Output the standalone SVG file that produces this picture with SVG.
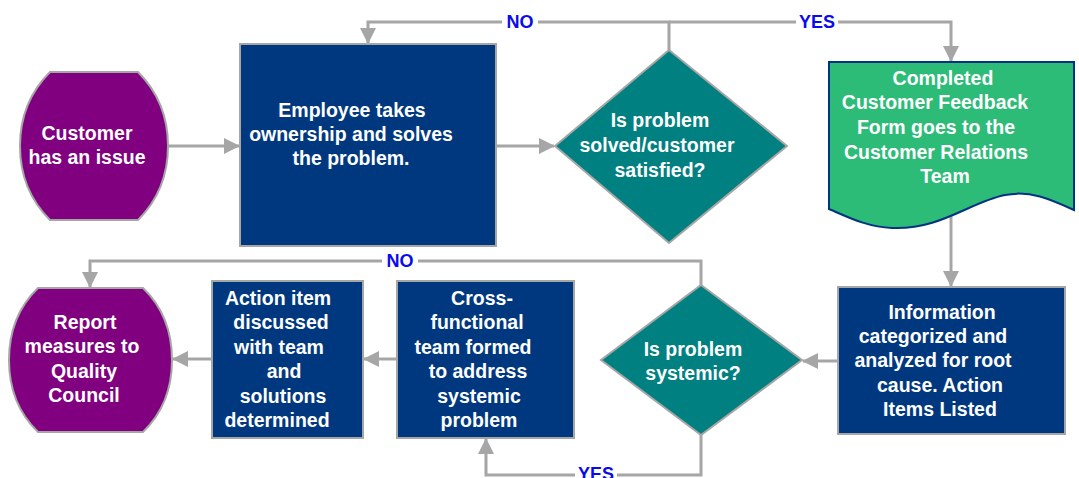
<svg xmlns="http://www.w3.org/2000/svg" width="1079" height="478" viewBox="0 0 1079 478">
<defs>
<marker id="arr" markerUnits="userSpaceOnUse" markerWidth="16" markerHeight="16" refX="15" refY="8" orient="auto">
<path d="M0,0 L16,8 L0,16 Z" fill="#A6A6A6"/>
</marker>
<style>
.t{font-family:"Liberation Sans",Arial,sans-serif;font-weight:bold;font-size:19.5px;fill:#FFFFFF;text-anchor:middle}
.lb{font-family:"Liberation Sans",Arial,sans-serif;font-weight:bold;font-size:18px;fill:#0A0AEE;text-anchor:middle}
.c{fill:none;stroke:#A6A6A6;stroke-width:3}
.box{fill:#00387F;stroke:#A6A6A6;stroke-width:2}
.dia{fill:#008080;stroke:#A6A6A6;stroke-width:2}
.term{fill:#800080;stroke:#A6A6A6;stroke-width:2}
</style>
</defs>
<rect width="1079" height="478" fill="#FFFFFF"/>
<g id="connectors">
<path class="c" d="M168,146 H239" marker-end="url(#arr)"/>
<path class="c" d="M496,146 H554" marker-end="url(#arr)"/>
<path class="c" d="M669,50 V22 H368 V43" marker-end="url(#arr)"/>
<path class="c" d="M669,22 H951 V61" marker-end="url(#arr)"/>
<path class="c" d="M951,215 V286" marker-end="url(#arr)"/>
<path class="c" d="M838,361 H803" marker-end="url(#arr)"/>
<path class="c" d="M701,285 V261 H90 V287" marker-end="url(#arr)"/>
<path class="c" d="M701,435 V475 H486 V439" marker-end="url(#arr)"/>
<path class="c" d="M397,359 H364" marker-end="url(#arr)"/>
<path class="c" d="M212,359 H173" marker-end="url(#arr)"/>
<rect x="502" y="12" width="36" height="20" fill="#FFFFFF"/>
<text class="lb" x="520" y="28">NO</text>
<rect x="796" y="12" width="42" height="20" fill="#FFFFFF"/>
<text class="lb" x="817" y="28">YES</text>
<rect x="382" y="251" width="36" height="20" fill="#FFFFFF"/>
<text class="lb" x="400" y="267">NO</text>
<rect x="575" y="465" width="42" height="20" fill="#FFFFFF"/>
<text class="lb" x="596" y="480">YES</text>
</g>
<g id="customer">
<path class="term" d="M50,72 H138 Q168,102 168,146 Q168,190 138,220 H50 Q20,190 20,146 Q20,102 50,72 Z"/>
<text class="t" x="87" y="140">Customer</text>
<text class="t" x="87" y="164">has an issue</text>
</g>
<g id="employee">
<rect class="box" x="240" y="44" width="256" height="202"/>
<text class="t" x="352" y="117">Employee takes</text>
<text class="t" x="351" y="141">ownership and solves</text>
<text class="t" x="351" y="165">the problem.</text>
</g>
<g id="decision1">
<path class="dia" d="M669,50 L787,146 L669,243 L555,146 Z"/>
<text class="t" x="660" y="127">Is problem</text>
<text class="t" x="657" y="152">solved/customer</text>
<text class="t" x="660" y="177">satisfied?</text>
</g>
<g id="feedback">
<path d="M829,62 H1074 V210 C1050,199 1030,190 1005,195 C970,202 940,230 892,228 C866,227 846,216 829,209 Z" fill="#2DBB78" stroke="#003380" stroke-width="2"/>
<text class="t" x="943" y="85">Completed</text>
<text class="t" x="935" y="109">Customer Feedback</text>
<text class="t" x="936" y="134">Form goes to the</text>
<text class="t" x="936" y="159">Customer Relations</text>
<text class="t" x="945" y="183">Team</text>
</g>
<g id="information">
<rect class="box" x="838" y="287" width="227" height="147"/>
<text class="t" x="942" y="319">Information</text>
<text class="t" x="933" y="343">categorized and</text>
<text class="t" x="933" y="367">analyzed for root</text>
<text class="t" x="940" y="392">cause. Action</text>
<text class="t" x="940" y="416">Items Listed</text>
</g>
<g id="decision2">
<path class="dia" d="M701,285 L802,360 L701,435 L601,360 Z"/>
<text class="t" x="693" y="356">Is problem</text>
<text class="t" x="693" y="380">systemic?</text>
</g>
<g id="crossfunctional">
<rect class="box" x="397" y="281" width="177" height="157"/>
<text class="t" x="482" y="305">Cross-</text>
<text class="t" x="477" y="329">functional</text>
<text class="t" x="473" y="354">team formed</text>
<text class="t" x="478" y="378">to address</text>
<text class="t" x="479" y="403">systemic</text>
<text class="t" x="479" y="427">problem</text>
</g>
<g id="actionitem">
<rect class="box" x="212" y="281" width="151" height="157"/>
<text class="t" x="278" y="305">Action item</text>
<text class="t" x="281" y="329">discussed</text>
<text class="t" x="279" y="354">with team</text>
<text class="t" x="284" y="378">and</text>
<text class="t" x="283" y="403">solutions</text>
<text class="t" x="277" y="427">determined</text>
</g>
<g id="report">
<path class="term" d="M38,288 H143 Q172,316 172,360 Q172,404 143,432 H38 Q9,404 9,360 Q9,316 38,288 Z"/>
<text class="t" x="85" y="329">Report</text>
<text class="t" x="82" y="353">measures to</text>
<text class="t" x="84" y="378">Quality</text>
<text class="t" x="84" y="402">Council</text>
</g>
</svg>
